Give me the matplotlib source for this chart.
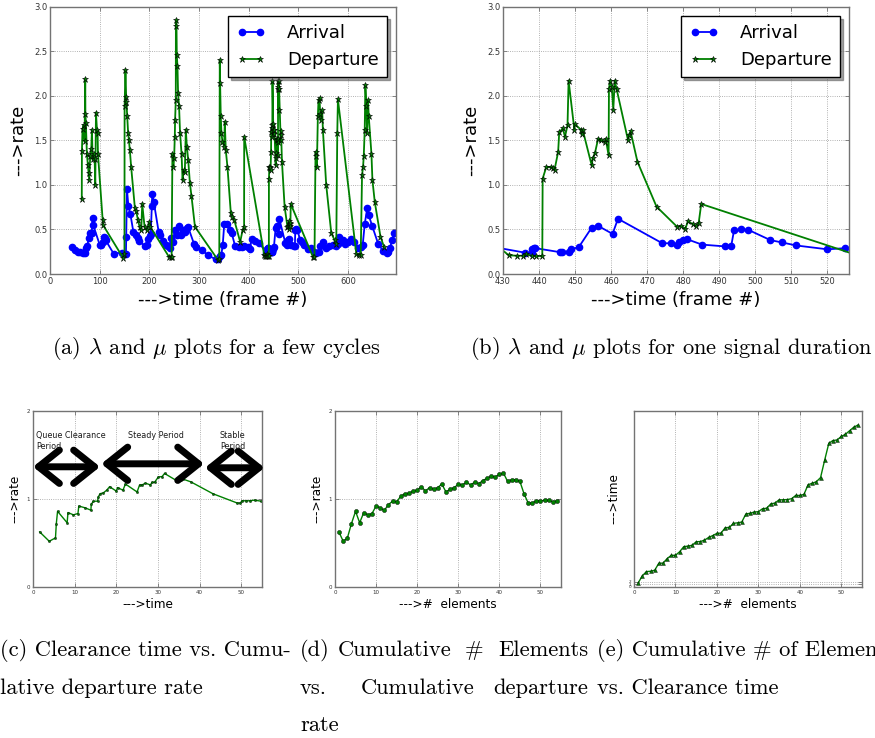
import matplotlib.pyplot as plt

# ---- (a)/(b): arrival and departure rates per frame ----
arr_t = [44, 50, 56, 61, 66, 70, 72, 75, 78, 81, 84, 86, 87, 100, 103, 106, 108,
         111, 112, 128, 146, 149, 153, 153.5, 155, 158, 162, 168, 173, 177, 180,
         192, 195, 198, 201, 203, 205, 206, 209, 219, 221, 228, 234, 238, 241, 243,
         248, 251, 256, 260, 264, 268, 272, 275, 278, 290, 294, 306, 318, 334, 339,
         342, 345, 348, 351, 357, 362, 366, 373, 381, 386, 390, 398, 403, 406, 413,
         421, 436, 438.1, 438.1, 438.5, 439, 445.8, 446.3, 448.2, 448.9, 451, 454.6,
         456.4, 460.4, 461.9, 474.2, 476.7, 478.3, 478.8, 479.9, 481.1, 485.2, 491.5,
         493.3, 494.1, 496, 498.1, 504.2, 507.3, 511.4, 520, 525, 532.8, 536, 541,
         544, 550, 556, 563, 570, 577, 580, 583, 590, 595, 600, 606, 612, 620, 626,
         630, 634, 639, 642, 649, 661, 671, 678, 681, 685, 689, 693]
arr_rate = [0.30, 0.27, 0.245, 0.25, 0.235, 0.24, 0.29, 0.31, 0.40, 0.46, 0.46, 0.63,
            0.55, 0.33, 0.32, 0.36, 0.41, 0.40, 0.38, 0.23, 0.24, 0.23, 0.23, 0.41,
            0.95, 0.76, 0.67, 0.47, 0.44, 0.40, 0.37, 0.31, 0.32, 0.39, 0.43, 0.45,
            0.76, 0.90, 0.81, 0.47, 0.44, 0.37, 0.33, 0.31, 0.29, 0.40, 0.36, 0.49,
            0.44, 0.54, 0.44, 0.49, 0.47, 0.52, 0.53, 0.34, 0.30, 0.27, 0.21, 0.165,
            0.165, 0.20, 0.21, 0.33, 0.56, 0.56, 0.49, 0.46, 0.31, 0.30, 0.30, 0.31,
            0.30, 0.28, 0.39, 0.37, 0.35, 0.24, 0.24, 0.28, 0.29, 0.29, 0.245, 0.25,
            0.25, 0.28, 0.30, 0.52, 0.54, 0.45, 0.62, 0.345, 0.345, 0.325, 0.355,
            0.38, 0.39, 0.33, 0.31, 0.31, 0.49, 0.50, 0.495, 0.38, 0.355, 0.32, 0.277,
            0.29, 0.25, 0.24, 0.25, 0.31, 0.36, 0.29, 0.31, 0.33, 0.31, 0.34, 0.42,
            0.38, 0.34, 0.36, 0.39, 0.355, 0.29, 0.30, 0.33, 0.56, 0.74, 0.66, 0.54,
            0.34, 0.26, 0.24, 0.25, 0.29, 0.38, 0.46]

dep_t = [64, 64.3, 65.5, 67.6, 69.6, 71, 71.3, 72.3, 74.3, 76.4, 77.7, 79, 81, 83.1,
         84.5, 85.8, 87.8, 89.9, 91.2, 92.6, 94.6, 95.9, 96.6, 106, 106.8, 147.3,
         150, 150.3, 152, 153.4, 154, 155.4, 157.4, 159, 160.8, 163.5, 171, 173.6,
         177, 180.4, 183.8, 185.8, 190.5, 196, 199.3, 202, 240, 243, 245, 246.6,
         248.6, 250, 251.4, 252, 253.4, 253.6, 254.7, 255.4, 256.8, 258, 260, 262,
         265, 267, 269, 271.6, 273.6, 275.7, 278.4, 281.8, 285, 292, 338, 341, 342,
         342.7, 344, 345.4, 347.4, 350.8, 352.1, 354.1, 357.5, 364.3, 367.6, 371,
         383.1, 387.9, 391, 391.2, 431.6, 433.9, 435.5, 436.4, 438.1, 439.2, 440.9,
         441, 442, 443.3, 444, 444.3, 445.3, 445.6, 446.6, 447.2, 447.9, 448.2,
         449.8, 450, 451.6, 451.8, 452.1, 454.6, 454.9, 455.5, 456.4, 457.1, 458.3,
         458.5, 459.3, 459.4, 459.7, 460.2, 460.6, 461, 461.5, 464.7, 465, 465.4,
         467.3, 472.6, 478.3, 479.4, 480.6, 481.3, 482.7, 483.5, 484.3, 485, 529.5,
         532.8, 534.9, 536.2, 537.6, 539.6, 540.9, 543, 544.3, 546.3, 548.3, 549.7,
         556.4, 566.6, 573.3, 576.7, 578.7, 580, 617, 621.8, 625.9, 628.6, 630.6,
         632, 634, 635.3, 637.4, 638.7, 640.7, 642.1, 647.5, 649.5, 654.2, 665.7,
         673.1]
dep_rate = [0.84, 1.38, 1.63, 1.67, 1.49, 2.19, 1.80, 1.69, 1.35, 1.22, 1.13, 1.055,
            1.32, 1.40, 1.62, 1.29, 1.35, 1.29, 1.00, 1.81, 1.62, 1.58, 1.35, 0.61,
            0.55, 0.18, 0.23, 1.885, 2.29, 1.99, 1.93, 1.77, 1.58, 1.50, 1.39, 1.20,
            0.74, 0.71, 0.61, 0.53, 0.49, 0.785, 0.53, 0.49, 0.58, 0.53, 0.19, 0.195,
            0.195, 1.35, 1.20, 1.30, 1.54, 1.73, 1.95, 2.78, 2.85, 2.46, 2.33, 2.03,
            1.88, 1.58, 1.35, 1.055, 1.17, 1.14, 1.62, 1.43, 1.28, 1.02, 0.875, 0.53,
            0.16, 0.17, 2.40, 2.14, 1.77, 1.58, 1.485, 1.43, 1.71, 1.39, 1.20, 0.68,
            0.64, 0.61, 0.36, 0.49, 0.53, 1.54, 0.21, 0.205, 0.205, 0.22, 0.205,
            0.20, 0.20, 1.07, 1.20, 1.20, 1.19, 1.17, 1.37, 1.59, 1.635, 1.54, 1.67,
            2.17, 1.62, 1.68, 1.62, 1.57, 1.62, 1.22, 1.30, 1.355, 1.52, 1.50, 1.485,
            1.52, 1.33, 2.08, 2.17, 2.095, 1.84, 2.17, 2.08, 1.50, 1.56, 1.60, 1.26,
            0.756, 0.53, 0.54, 0.51, 0.59, 0.56, 0.54, 0.575, 0.786, 0.195, 0.195,
            1.37, 1.32, 1.20, 1.77, 1.95, 1.97, 1.80, 1.73, 1.84, 1.62, 1.00, 0.46,
            0.38, 0.34, 1.58, 1.96, 0.23, 0.21, 0.21, 1.11, 1.20, 1.32, 1.62, 2.12,
            1.88, 1.58, 1.95, 1.77, 1.35, 1.055, 0.81, 0.42, 0.30]

# ---- (c): clearance time vs cumulative departure rate ----
clr_time = [1.6, 3.9, 5.4, 5.6, 5.9, 8.2, 8.4, 9.7, 10.8, 11.0, 12.5, 13.9, 14.0,
            14.5, 15.5, 15.7, 16.1, 16.9, 17.7, 18.4, 20.0, 20.3, 21.6, 22.2, 25.0,
            25.6, 26.2, 27.0, 28.2, 28.6, 29.2, 30.1, 31.0, 31.6, 34.8, 35.5, 36.1,
            37.9, 43.2, 49.0, 49.8, 50.2, 51.2, 52.0, 53.2, 54.8]
clr_rate = [0.626, 0.52, 0.558, 0.72, 0.86, 0.73, 0.846, 0.82, 0.835, 0.92, 0.90,
            0.873, 0.94, 0.975, 0.975, 1.025, 1.06, 1.07, 1.10, 1.14, 1.09, 1.13,
            1.10, 1.17, 1.08, 1.16, 1.16, 1.18, 1.16, 1.19, 1.19, 1.25, 1.255, 1.29,
            1.20, 1.22, 1.225, 1.195, 1.06, 0.955, 0.955, 0.98, 0.98, 0.98, 0.987,
            0.975]
periods = [("Queue Clearance\nPeriod", 0.0, 16.1), ("Steady Period", 16.4, 41.1),
           ("Stable\nPeriod", 41.3, 55.6)]

# ---- (d)/(e): per element ----
elements = list(range(1, 55))
elem_rate = [0.62, 0.52, 0.555, 0.72, 0.86, 0.73, 0.846, 0.82, 0.835, 0.92, 0.90,
             0.87, 0.935, 0.975, 0.97, 1.03, 1.06, 1.065, 1.09, 1.10, 1.14, 1.09,
             1.13, 1.11, 1.13, 1.17, 1.08, 1.11, 1.13, 1.165, 1.16, 1.19, 1.16, 1.19,
             1.175, 1.21, 1.235, 1.26, 1.25, 1.28, 1.295, 1.20, 1.22, 1.22, 1.20,
             1.06, 0.955, 0.955, 0.98, 0.98, 0.983, 0.983, 0.97, 0.98]
elem_time = [1.5, 4.1, 5.7, 5.8, 6.2, 8.8, 8.8, 10.5, 11.7, 11.7, 13.0, 14.9, 15.1,
             15.4, 16.7, 16.8, 17.3, 18.3, 19.0, 19.8, 19.9, 21.9, 22.0, 23.5, 23.7,
             24.0, 27.0, 27.2, 27.7, 27.8, 28.9, 29.1, 30.7, 31.0, 32.2, 32.2, 32.3,
             32.6, 33.8, 33.8, 34.2, 37.8, 38.3, 38.9, 40.4, 46.9, 53.1, 54.1, 54.3,
             55.6, 56.4, 57.7, 59.0, 59.8]

GREEN = (0, 0.5, 0)
plt.rcParams['mathtext.fontset'] = 'cm'
W, H = 875, 738
fig = plt.figure(figsize=(W / 100, H / 100), dpi=100)


def px_axes(left, top, right, bottom):
    return fig.add_axes([left / W, 1 - bottom / H, (right - left) / W, (bottom - top) / H])


def style(ax, tick_size):
    for s in ax.spines.values():
        s.set_color('0.45')
        s.set_linewidth(1.0)
    ax.grid(True, linestyle=':', color='0.6', linewidth=0.6)
    ax.tick_params(direction='in', labelsize=tick_size, colors='0.45', labelcolor='0.2',
                   length=3, width=0.6, pad=2, top=True, right=True)


def rate_panel(ax, xlim, xticks):
    ax.plot(arr_t, arr_rate, '-o', color='b', lw=1.3, ms=4.5, mec='b', label='Arrival')
    ax.plot(dep_t, dep_rate, '-*', color=GREEN, lw=1.3, ms=4.5, mec='k', mew=0.4,
            label='Departure')
    ax.set_xlim(*xlim)
    ax.set_ylim(0, 3)
    ax.set_xticks(xticks)
    ax.set_yticks([0, 0.5, 1.0, 1.5, 2.0, 2.5, 3.0])
    style(ax, 6)
    ax.set_xlabel('--->time (frame #)', fontsize=13, labelpad=4)
    ax.set_ylabel('--->rate', fontsize=13, labelpad=5)
    leg = ax.legend(loc='upper right', fontsize=13, numpoints=2, shadow=True,
                    fancybox=False, edgecolor='k', framealpha=1, handlelength=1.6,
                    handletextpad=1.2, borderpad=0.45)
    leg.get_frame().set_linewidth(1.0)


ax_a = px_axes(50, 6.7, 396, 274)
rate_panel(ax_a, (0, 697), range(0, 700, 100))
ax_b = px_axes(503, 6.7, 849, 274)
rate_panel(ax_b, (430, 526), range(430, 530, 10))

# (c)
ax_c = px_axes(33, 411, 262, 587)
ax_c.plot(clr_time, clr_rate, '-o', color=GREEN, lw=1.0, ms=1.6, mec='k', mew=0.3)
ax_c.set_xlim(0, 55)
ax_c.set_ylim(0, 2)
ax_c.set_yticks([0, 1, 2])
ax_c.set_xticks(range(0, 60, 10))
style(ax_c, 4)
ax_c.set_xlabel('--->time', fontsize=8.7, labelpad=2)
ax_c.set_ylabel('--->rate', fontsize=8.7, labelpad=4)
arrow_y = [1.366, 1.40, 1.355]
label_x = [0.8, 22.8, 44.9]
for (name, x0, x1), y, lx in zip(periods, arrow_y, label_x):
    ax_c.annotate('', xy=(x1, y), xytext=(x0, y), annotation_clip=False,
                  arrowprops=dict(arrowstyle='<->,head_length=0.75,head_width=0.6',
                                  lw=5, color='k', shrinkA=0, shrinkB=0,
                                  mutation_scale=20, capstyle='round',
                                  joinstyle='round', clip_on=False))
    ax_c.text(lx, 1.77, name, fontsize=5.8, va='top', ha='left', linespacing=1.25,
              color='0.1')

# (d)
ax_d = px_axes(335, 411, 561, 587)
ax_d.plot(elements, elem_rate, '-o', color=GREEN, lw=1.0, ms=3.0, mec='k', mew=0.3)
ax_d.set_xlim(0, 55)
ax_d.set_ylim(0, 2)
ax_d.set_yticks([0, 1, 2])
ax_d.set_xticks(range(0, 60, 10))
style(ax_d, 4)
ax_d.set_xlabel('--->#  elements', fontsize=8.7, labelpad=2)
ax_d.set_ylabel('--->rate', fontsize=8.7, labelpad=4)

# (e)
ax_e = px_axes(634, 411, 862, 587)
ax_e.plot(elements, elem_time, '-^', color=GREEN, lw=1.0, ms=2.8, mec='k', mew=0.3)
ax_e.set_xlim(0, 55)
ax_e.set_ylim(0, 65)
ax_e.set_yticks([0, 1, 2])
ax_e.set_xticks(range(0, 60, 10))
style(ax_e, 4)
ax_e.tick_params(axis='y', labelsize=3)
ax_e.set_xlabel('--->#  elements', fontsize=8.7, labelpad=2)
ax_e.set_ylabel('--->time', fontsize=8.7, labelpad=6)

# ---- sub-captions (LaTeX-like serif) ----
CAP = dict(fontsize=16.2, family=['cmr10', 'DejaVu Serif'], va='center')
fig.text(216 / W, 1 - 348 / H, r'(a) $\lambda$ and $\mu$ plots for a few cycles',
         ha='center', **CAP)
fig.text(671 / W, 1 - 348 / H, r'(b) $\lambda$ and $\mu$ plots for one signal duration',
         ha='center', **CAP)

renderer = fig.canvas.get_renderer()


def justify(words, x0, x1, y, weights=None):
    """Spread words over [x0, x1] pixels like a justified LaTeX line."""
    texts = [fig.text(0, 1 - y / H, w, ha='left', **CAP) for w in words]
    widths = [t.get_window_extent(renderer).width for t in texts]
    weights = weights or [1] * (len(words) - 1)
    gap = (x1 - x0 - sum(widths)) / sum(weights)
    x = x0
    for i, (t, wd) in enumerate(zip(texts, widths)):
        t.set_x(x / W)
        if i < len(weights):
            x += wd + gap * weights[i]


fig.text(0, 1 - 650 / H, '(c) Clearance time vs. Cumu-', ha='left', **CAP)
fig.text(0, 1 - 688 / H, 'lative departure rate', ha='left', **CAP)
justify(['(d)', 'Cumulative', '#', 'Elements'], 300, 588, 650, [0.55, 1, 1])
justify(['vs.', 'Cumulative', 'departure'], 300, 588, 688, [1.8, 1])
fig.text(300 / W, 1 - 725 / H, 'rate', ha='left', **CAP)
fig.text(597 / W, 1 - 650 / H, '(e) Cumulative # of Elements', ha='left', **CAP)
fig.text(597 / W, 1 - 688 / H, 'vs. Clearance time', ha='left', **CAP)

fig.savefig('out.png', dpi=100)
